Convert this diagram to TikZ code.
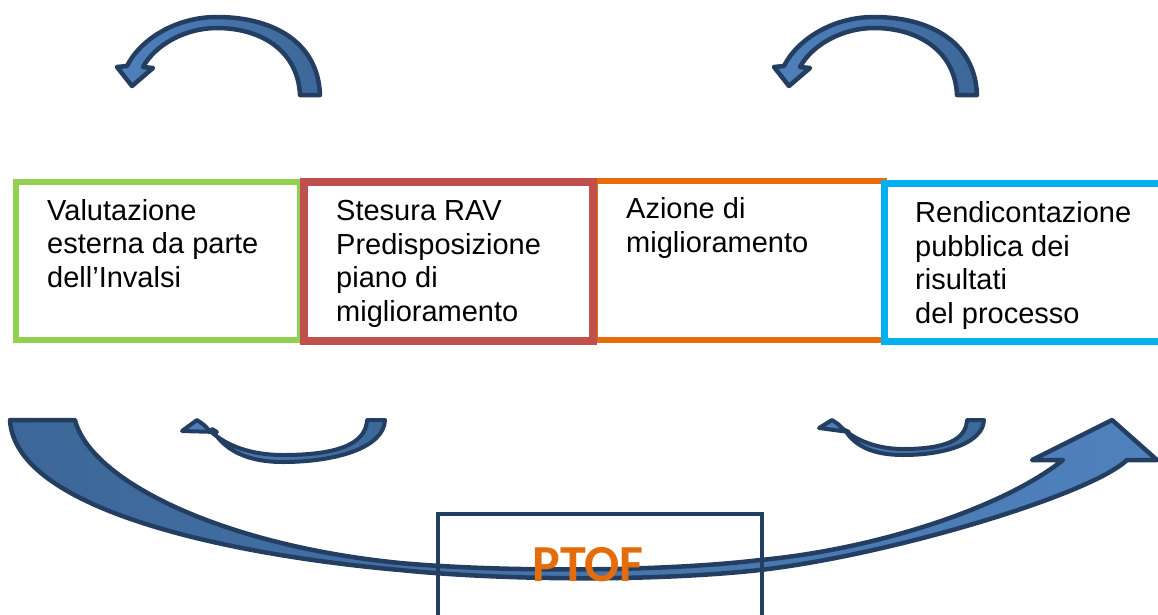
\documentclass[tikz,border=0pt]{standalone}
\usepackage{fontspec}
\setmainfont{Liberation Sans}
\newfontfamily\ptoffont{Carlito}
\definecolor{verdeb}{RGB}{146,208,80}
\definecolor{rossob}{RGB}{192,80,77}
\definecolor{aranciob}{RGB}{228,108,10}
\definecolor{azzurrob}{RGB}{0,176,240}
\definecolor{blunotte}{RGB}{36,62,98}
\definecolor{bluchiaro}{RGB}{79,129,189}
\definecolor{bluscuro}{RGB}{60,103,152}
\tikzset{
  fase/.style={draw,rectangle,inner sep=0pt,outer sep=0pt,anchor=north west},
  testo/.style={anchor=base west,align=left,inner sep=0pt,font=\fontsize{29}{33.5}\selectfont},
  freccia/.style={draw=blunotte,line width=4.5pt,line join=round,left color=bluchiaro,right color=bluscuro}
}
\begin{document}
\begin{tikzpicture}[x=1pt,y=-1pt]
\clip (0,0) rectangle (1158,614);
% le quattro fasi
\node[fase,draw=aranciob,line width=6pt,minimum width=289pt,minimum height=159pt] (azione) at (595,181) {};
\node[fase,draw=verdeb,line width=6pt,minimum width=284pt,minimum height=158pt] (valut) at (16,182) {};
\node[fase,draw=rossob,line width=8pt,minimum width=289pt,minimum height=158.5pt] (rav) at (304,182) {};
\node[fase,draw=azzurrob,line width=7pt,minimum width=290pt,minimum height=157.5pt] (rendic) at (884,183.5) {};

% testi (ancorati all'ultima riga)
\node[testo] (tvalut) at (47,287) {Valutazione\\esterna da parte\\dell’Invalsi};
\node[testo] (trav) at (336,321) {Stesura RAV\\Predisposizione\\piano di\\miglioramento};
\node[testo] (tazione) at (626,252) {Azione di\\miglioramento};
\node[testo] (trendic) at (915,323) {Rendicontazione\\pubblica dei\\risultati\\del processo};

% frecce in alto
\begin{scope}
\draw[freccia](300,95)--(320,95) .. controls (318,40) and (270,17) .. (217,17) .. controls (175,17) and (140,40) .. (127,66)--(117,67)--(132,86)--(153,68)--(143,67) .. controls (155,45) and (185,28) .. (217,28) .. controls (260,28) and (298,50) .. (300,95)--cycle;
\end{scope}
\begin{scope}[xshift=657pt]
\draw[freccia](300,95)--(320,95) .. controls (318,40) and (270,17) .. (217,17) .. controls (175,17) and (140,40) .. (127,66)--(117,67)--(132,86)--(153,68)--(143,67) .. controls (155,45) and (185,28) .. (217,28) .. controls (260,28) and (298,50) .. (300,95)--cycle;
\end{scope}

% frecce piccole in basso
\draw[freccia,line width=4pt](367,420)--(385,420) .. controls (384,448) and (335,462) .. (283,462) .. controls (250,462) and (225,452) .. (212,429)--(217,432)--(182,431)--(197,420)--(204,425) .. controls (225,448) and (255,455) .. (283,455) .. controls (335,455) and (366,445) .. (367,420)--cycle;
\draw[freccia,line width=4pt](967,420)--(984,420) .. controls (983,443) and (945,455) .. (903,455) .. controls (875,455) and (855,447) .. (845,430)--(849,432)--(819,428)--(832,420)--(838,424) .. controls (855,442) and (880,449) .. (903,449) .. controls (945,449) and (966,440) .. (967,420)--cycle;

% freccia grande
\draw[freccia,left color=bluscuro,right color=bluchiaro](10,420)--(75,420) .. controls (90,480) and (220,545) .. (400,563) .. controls (500,572) and (660,572) .. (760,560) .. controls (870,550) and (1000,510) .. (1063,460)--(1032,460)--(1112,420)--(1157,460)--(1127,460) .. controls (1090,495) and (890,555) .. (760,570) .. controls (650,582) and (500,580) .. (400,570) .. controls (230,555) and (15,510) .. (10,420)--cycle;

% PTOF
\node[fase,draw=blunotte,line width=4.5pt,minimum width=324pt,minimum height=140pt] (ptofbox) at (438,514) {};
\node[anchor=base,inner sep=0pt,text=aranciob,font=\ptoffont\bfseries\fontsize{52}{60}\selectfont] (ptof) at (588,581) {PTOF};
\end{tikzpicture}
\end{document}
